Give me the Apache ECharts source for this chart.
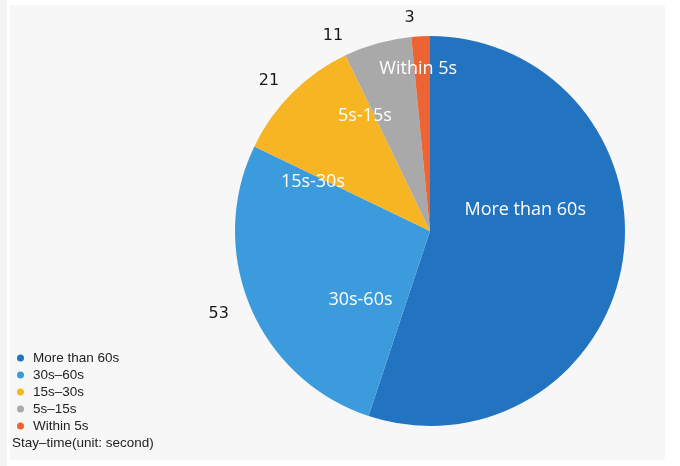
<!DOCTYPE html>
<html>
<head>
<meta charset="utf-8">
<script src="https://cdn.jsdelivr.net/npm/echarts@6/dist/echarts.min.js"></script>
<style>
html,body{margin:0;padding:0;background:#ffffff;width:680px;height:466px;overflow:hidden;}
#frame{position:absolute;left:0;top:0;width:7px;height:466px;background:#f3f3f3;}
#chart{position:absolute;left:10px;top:5px;width:655px;height:455px;background:#f7f7f8;}
</style>
</head>
<body>
<div id="frame"></div>
<div id="chart"></div>
<script>
const categories = ["More than 60s", "30s-60s", "15s-30s", "5s-15s", "Within 5s"];
const legendNames = ["More than 60s", "30s\u201360s", "15s\u201330s", "5s\u201315s", "Within 5s"];
const values = [108, 53, 21, 11, 3];
const colors = ["#2273c0", "#3b9bdc", "#f8b523", "#a9a9a9", "#ec6334"];
const footnote = "Stay\u2013time(unit: second)";

// label nudges (presentation only)
const labelOffsets = [[-4, -37], [23, 30], [-46, 22], [-38, -18], [-7, -62]];

const chart = echarts.init(document.getElementById('chart'));
const center = [420, 226];
const radius = 195;

const mainData = categories.map((c, i) => ({
  name: legendNames[i],
  value: values[i],
  label: { formatter: c, offset: labelOffsets[i] },
  itemStyle: { color: colors[i] }
}));
const valueData = categories.map((c, i) => ({
  name: legendNames[i] + ' ',
  value: values[i]
}));

chart.setOption({
  animation: false,
  legend: {
    orient: 'vertical',
    left: 2,
    top: 341,
    icon: 'circle',
    itemWidth: 7,
    itemHeight: 7,
    itemGap: 3,
    data: legendNames,
    textStyle: {
      fontFamily: 'Liberation Sans, Arial, sans-serif',
      fontSize: 13.5,
      color: '#222',
      lineHeight: 14,
      padding: [0, 0, 0, 4]
    }
  },
  graphic: [{
    type: 'text',
    left: 2,
    top: 431,
    style: {
      text: footnote,
      font: '13.5px "Liberation Sans", Arial, sans-serif',
      fill: '#222'
    }
  }],
  series: [
    {
      type: 'pie',
      center: center,
      radius: radius,
      startAngle: 90,
      clockwise: true,
      silent: true,
      avoidLabelOverlap: false,
      data: mainData,
      label: {
        position: 'inside',
        color: '#ffffff',
        fontFamily: 'Open Sans, Noto Sans, sans-serif',
        fontSize: 18
      },
      labelLine: { show: false },
      labelLayout: { hideOverlap: false },
      itemStyle: { borderWidth: 0 }
    },
    {
      type: 'pie',
      center: center,
      radius: radius,
      startAngle: 90,
      clockwise: true,
      silent: true,
      data: valueData,
      itemStyle: { color: 'rgba(0,0,0,0)' },
      label: {
        position: 'outside',
        formatter: '{c}',
        color: '#1a1a1a',
        fontFamily: 'DejaVu Sans, sans-serif',
        fontSize: 16
      },
      labelLine: { show: false, length: 18, length2: 0 }
    }
  ]
});
</script>
</body>
</html>
